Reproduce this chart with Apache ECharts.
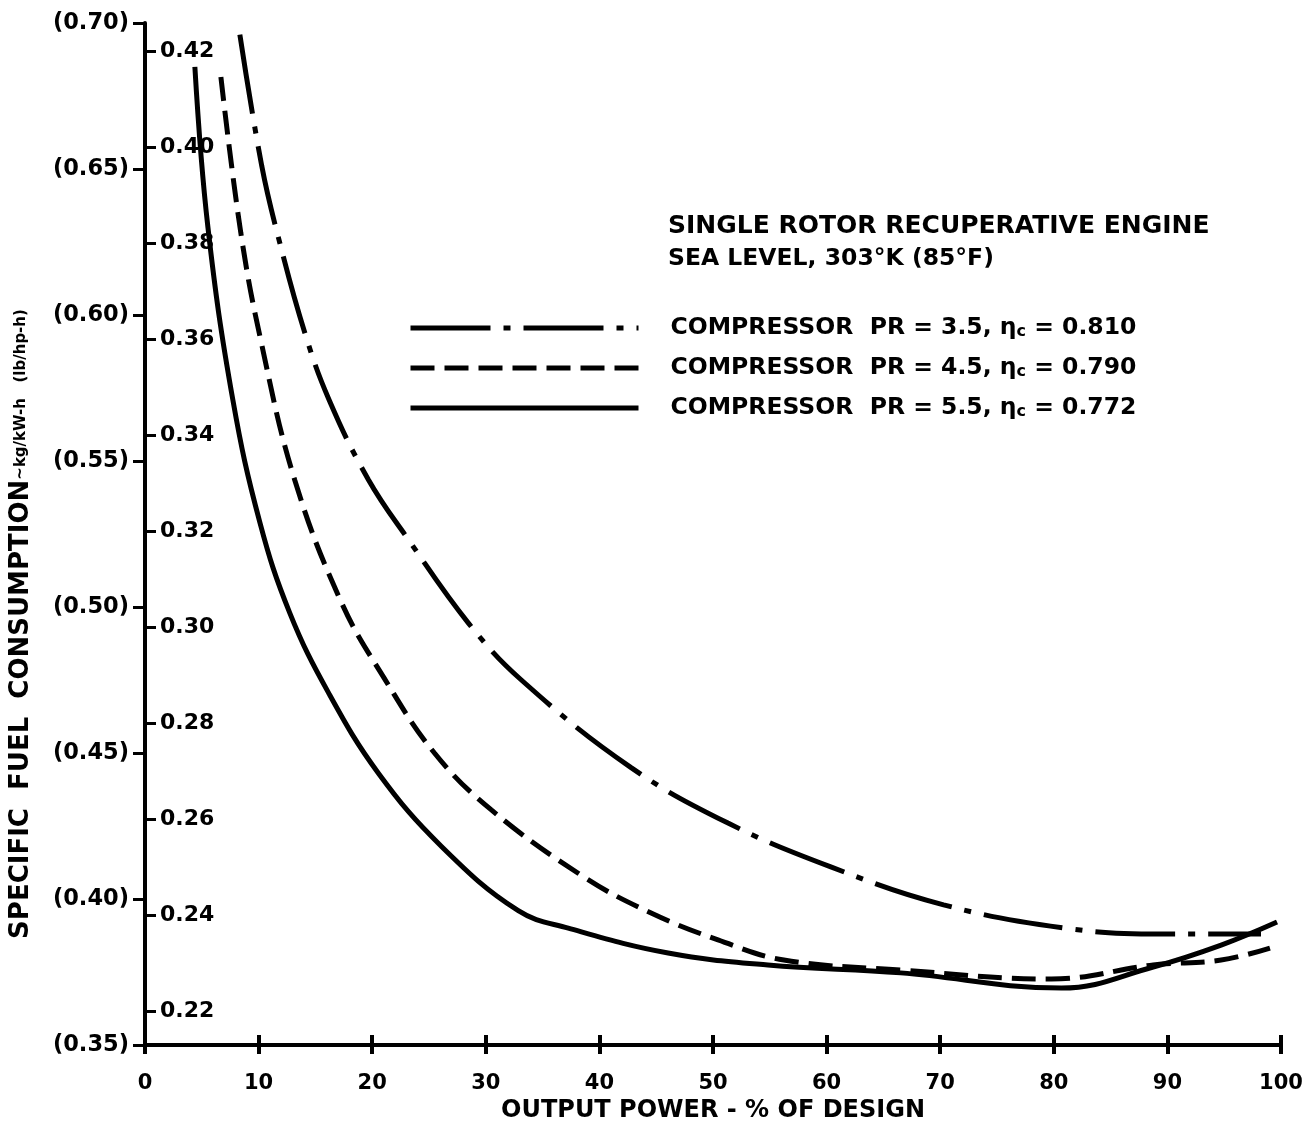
<!DOCTYPE html>
<html>
<head>
<meta charset="utf-8">
<script src="https://cdn.jsdelivr.net/npm/echarts@6/dist/echarts.min.js"></script>
<style>
html,body{margin:0;padding:0;background:#fff;}
#chart{width:1314px;height:1147px;}
</style>
</head>
<body>
<div id="chart"></div>
<script>
// ---- data (x: output power % of design, y: SFC in lb/hp-h) ----
const seriesNames = [
  'COMPRESSOR  PR = 3.5, ηc = 0.810',
  'COMPRESSOR  PR = 4.5, ηc = 0.790',
  'COMPRESSOR  PR = 5.5, ηc = 0.772'
];
const pr35X = [8.35, 10.28, 11.78, 14.06, 16.2, 19.68, 23.20, 28.47, 33.13, 42.79, 51.32, 60.37, 70.30, 81.02, 89.37, 98.24];
const pr35Y = [0.696, 0.651, 0.626, 0.594, 0.571, 0.5435, 0.523, 0.4945, 0.475, 0.445, 0.426, 0.411, 0.398, 0.390, 0.388, 0.388];
const pr45X = [6.68, 8.44, 10.19, 13.18, 17.31, 21.00, 25.48, 30.49, 38.66, 44.55, 50.44, 56.24, 66.52, 79.79, 88.75, 94.73, 99.03];
const pr45Y = [0.6815, 0.628, 0.5914, 0.5435, 0.5014, 0.476, 0.450, 0.4305, 0.4075, 0.3952, 0.386, 0.3791, 0.3757, 0.3726, 0.3774, 0.3791, 0.3832];
const pr55X = [4.39, 5.54, 7.73, 10.11, 12.74, 16.17, 20.56, 26.10, 32.86, 37.26, 46.05, 54.83, 66.52, 80.67, 88.75, 94.73, 99.65];
const pr55Y = [0.685, 0.630, 0.571, 0.529, 0.498, 0.4705, 0.443, 0.418, 0.396, 0.390, 0.3815, 0.3774, 0.3747, 0.3695, 0.3767, 0.3842, 0.3921];
const xTicks = [0, 10, 20, 30, 40, 50, 60, 70, 80, 90, 100];
const kgTicks = [0.22, 0.24, 0.26, 0.28, 0.30, 0.32, 0.34, 0.36, 0.38, 0.40, 0.42];
const LB_TO_KG = 0.6083; // 1 lb/hp-h = 0.6083 kg/kW-h

const FONT = 'DejaVu Sans';
const zip = (xs, ys) => xs.map((x, i) => [x, ys[i]]);

const chart = echarts.init(document.getElementById('chart'), null, {renderer: 'canvas'});
const lineBase = {type: 'line', smooth: 0.4, symbol: 'none', showSymbol: false, silent: true,
  itemStyle: {color: '#000'}};
const bold = (size) => ({fontFamily: FONT, fontSize: size, fontWeight: 'bold', color: '#000'});

chart.setOption({
  backgroundColor: '#fff',
  animation: false,
  title: {
    text: 'SINGLE ROTOR RECUPERATIVE ENGINE',
    subtext: 'SEA LEVEL, 303°K (85°F)',
    left: 668, top: 214, itemGap: 8, padding: 0,
    textStyle: bold(25),
    subtextStyle: bold(23.5)
  },
  legend: {
    data: seriesNames,
    orient: 'vertical',
    left: 403, top: 311,
    itemWidth: 228, itemHeight: 14, itemGap: 16,
    selectedMode: false,
    itemStyle: {opacity: 0},
    lineStyle: {width: 5, color: '#000'},
    formatter: name => '{g|}{t|' + name.replace('ηc', 'η}{s|c}{t|') + '}',
    textStyle: {
      color: '#000',
      rich: {
        g: {width: 27},
        t: bold(23.5),
        s: Object.assign(bold(16), {padding: [7, 0, 0, 0]})
      }
    }
  },
  grid: {left: 143, right: 33, top: 23, bottom: 102, containLabel: false},
  xAxis: [{
    type: 'value', min: 0, max: 100, interval: 10,
    name: 'OUTPUT POWER - % OF DESIGN', nameLocation: 'middle', nameGap: 40,
    nameTextStyle: bold(24),
    axisLine: {show: true, lineStyle: {color: '#000', width: 4}},
    axisTick: {show: true, length: 9, lineStyle: {color: '#000', width: 4}},
    axisLabel: Object.assign({margin: 28, customValues: xTicks}, bold(21)),
    splitLine: {show: false}
  }, {
    type: 'value', min: 0, max: 100, interval: 10, position: 'bottom',
    axisLine: {show: false},
    axisTick: {show: true, inside: true, length: 10, lineStyle: {color: '#000', width: 4}},
    axisLabel: {show: false},
    splitLine: {show: false}
  }],
  yAxis: [{
    type: 'value', min: 0.35, max: 0.70, interval: 0.05,
    name: '{a|SPECIFIC  FUEL  CONSUMPTION}{b|~kg/kW-h   (lb/hp-h)}',
    nameLocation: 'middle', nameGap: 111, nameRotate: 90,
    nameTextStyle: {padding: [0, 180, 0, 0], rich: {
      a: bold(26),
      b: bold(15)
    }},
    axisLine: {show: true, lineStyle: {color: '#000', width: 4}},
    axisTick: {show: true, length: 12, lineStyle: {color: '#000', width: 3}},
    axisLabel: Object.assign({margin: 16, formatter: v => '(' + v.toFixed(2) + ')'}, bold(22.5)),
    splitLine: {show: false}
  }, {
    type: 'value', min: 0.35 * LB_TO_KG, max: 0.70 * LB_TO_KG, position: 'left',
    axisLine: {show: false},
    axisTick: {show: true, inside: true, length: 11, customValues: kgTicks,
      lineStyle: {color: '#000', width: 3}},
    axisLabel: Object.assign({show: true, inside: true, margin: 15, customValues: kgTicks,
      formatter: v => v.toFixed(2)}, bold(22)),
    splitLine: {show: false}
  }],
  series: [
    Object.assign({}, lineBase, {name: seriesNames[0], data: zip(pr35X, pr35Y),
      lineStyle: {color: '#000', width: 5, type: [80, 13, 7, 13]}}),
    Object.assign({}, lineBase, {name: seriesNames[1], data: zip(pr45X, pr45Y),
      lineStyle: {color: '#000', width: 5, type: [24, 10]}}),
    Object.assign({}, lineBase, {name: seriesNames[2], data: zip(pr55X, pr55Y),
      lineStyle: {color: '#000', width: 5, type: 'solid'}})
  ]
});
</script>
</body>
</html>
